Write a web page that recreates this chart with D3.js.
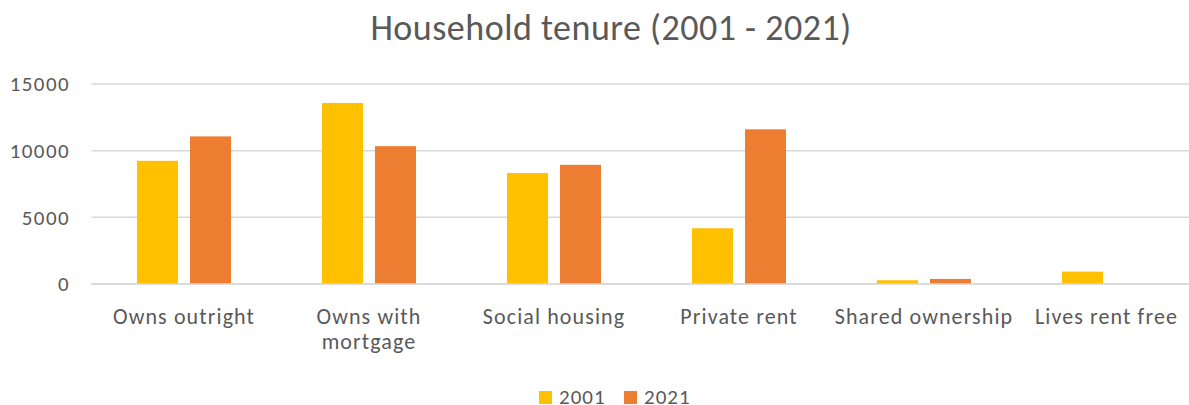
<!DOCTYPE html>
<html>
<head>
<meta charset="utf-8">
<script src="https://cdn.jsdelivr.net/npm/d3@7"></script>
<style>
  body { margin: 0; background: #fff; }
  svg text { font-family: Calibri, Carlito, "Liberation Sans", "Open Sans", sans-serif; fill: #595959; }
</style>
</head>
<body>
<div id="chart"></div>
<script>
const categories = ["Owns outright", "Owns with mortgage", "Social housing", "Private rent", "Shared ownership", "Lives rent free"];
const series = ["2001", "2021"];
const values2001 = [9240, 13580, 8320, 4180, 280, 930];
const values2021 = [11070, 10340, 8940, 11600, 380, 0];
const yTicks = [0, 5000, 10000, 15000];

const colors = {"2001": "#ffc000", "2021": "#ed7d31"};
const width = 1189, height = 405;
// plot area runs a little past the right edge of the picture
const margin = {top: 84, right: -12.5, bottom: 121, left: 91.5};

const svg = d3.select("#chart").append("svg")
    .attr("width", width)
    .attr("height", height);

svg.append("text")
    .attr("x", 611)
    .attr("y", 40)
    .attr("text-anchor", "middle")
    .style("font-size", "36px")
    .style("letter-spacing", "0.5px")
    .text("Household tenure (2001 - 2021)");

const x = d3.scaleBand()
    .domain(categories)
    .range([margin.left, width - margin.right]);

const xInner = d3.scaleBand()
    .domain(series)
    .range([0, x.bandwidth()])
    .paddingInner(0.226)
    .paddingOuter(0.858);

const y = d3.scaleLinear()
    .domain([0, 15000])
    .range([height - margin.bottom, margin.top]);

// gridlines
svg.append("g")
    .selectAll("line")
    .data(yTicks)
    .enter()
    .append("line")
    .attr("x1", margin.left)
    .attr("x2", width)
    .attr("y1", d => y(d))
    .attr("y2", d => y(d))
    .attr("stroke", "#d9d9d9")
    .attr("stroke-width", 1.5);

// y axis labels
const yAxis = svg.append("g")
    .attr("transform", `translate(${margin.left - 21.5},0)`)
    .call(d3.axisLeft(y).tickValues(yTicks).tickFormat(d3.format("d")).tickSize(0).tickPadding(0));
yAxis.select(".domain").remove();
yAxis.selectAll("text")
    .style("font-size", "21px")
    .style("letter-spacing", "1.4px")
    .attr("dy", "0.33em");

// bars
const rows = categories.map((c, i) => ({cat: c, vals: [values2001[i], values2021[i]]}));

const groups = svg.append("g")
    .selectAll("g")
    .data(rows)
    .enter()
    .append("g")
    .attr("transform", d => `translate(${x(d.cat)},0)`);

groups.selectAll("rect")
    .data(d => d.vals.map((v, j) => ({key: series[j], value: v})))
    .enter()
    .filter(d => d.value > 0)
    .append("rect")
    .attr("x", d => xInner(d.key))
    .attr("width", xInner.bandwidth())
    .attr("y", d => y(d.value))
    .attr("height", d => y(0) - y(d.value))
    .attr("fill", d => colors[d.key]);

// redraw baseline over bars
svg.append("line")
    .attr("x1", margin.left)
    .attr("x2", width)
    .attr("y1", y(0))
    .attr("y2", y(0))
    .attr("stroke", "#d9d9d9")
    .attr("stroke-width", 1.5);

// category labels
const xLabels = svg.append("g")
    .selectAll("text")
    .data(categories)
    .enter()
    .append("text")
    .attr("y", 324)
    .attr("text-anchor", "middle")
    .style("font-size", "22px")
    .style("letter-spacing", "1.1px");

xLabels.each(function (d) {
    const t = d3.select(this);
    const lines = d === "Owns with mortgage" ? ["Owns with", "mortgage"] : [d];
    lines.forEach((l, k) => {
        t.append("tspan")
            .attr("dy", k === 0 ? 0 : 25)
            .text(l);
    });
    // keep label inside the picture, like the original does
    let cx = x(d) + x.bandwidth() / 2;
    const half = this.getComputedTextLength() / (lines.length) / 2;
    if (cx + half > width - 11) cx = width - 11 - half;
    t.selectAll("tspan").attr("x", cx);
});

// legend
const legend = svg.append("g")
    .attr("transform", "translate(539,390)");

const legendItems = legend.selectAll("g")
    .data(series)
    .enter()
    .append("g")
    .attr("transform", (d, i) => `translate(${i * 85},0)`);

legendItems.append("rect")
    .attr("y", 1)
    .attr("width", 13)
    .attr("height", 13)
    .attr("fill", d => colors[d]);

legendItems.append("text")
    .attr("x", 20)
    .attr("y", 14)
    .style("font-size", "21px")
    .style("letter-spacing", "1px")
    .text(d => d);
</script>
</body>
</html>
